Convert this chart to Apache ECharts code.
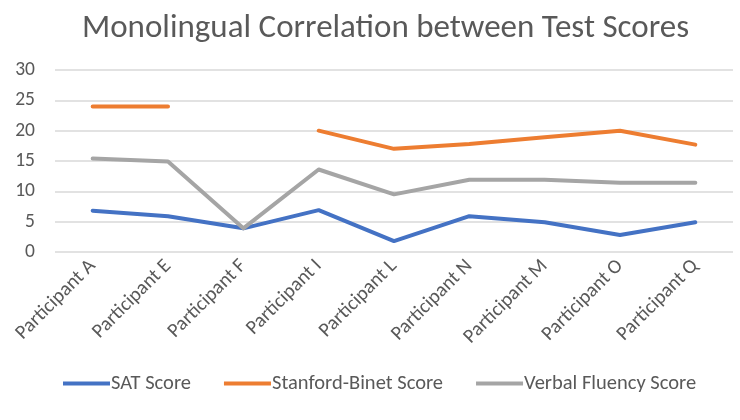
<!DOCTYPE html>
<html><head><meta charset="utf-8">
<script src="https://cdn.jsdelivr.net/npm/echarts@6/dist/echarts.min.js"></script>
<style>html,body{margin:0;padding:0;background:#fff}#c{width:740px;height:420px}</style>
</head><body><div id="c"></div>
<script>
const categories = ['Participant A','Participant E','Participant F','Participant I','Participant L','Participant N','Participant M','Participant O','Participant Q'];
const satScore = [6.8, 5.9, 3.9, 6.9, 1.8, 5.9, 4.9, 2.8, 4.9];
const stanfordBinet = [24, 24, null, 20, 17, 17.8, 18.9, 20, 17.7];
const verbalFluency = [15.4, 14.9, 3.9, 13.6, 9.5, 11.9, 11.9, 11.4, 11.4];
const yTicks = [0, 30, 5];

const chart = echarts.init(document.getElementById('c'));
const font = 'Calibri, Carlito, "Open Sans", sans-serif';
function line(name, data, color){
  return {name, type:'line', data, symbol:'none', connectNulls:false,
    lineStyle:{color, width:4, cap:'round', join:'round'}, itemStyle:{color}};
}
chart.setOption({
  animation:false,
  title:{text:'Monolingual Correlation between Test Scores', left:77, top:7,
    textStyle:{color:'#595959', fontSize:33, fontWeight:'normal', fontFamily:font}},
  legend:{bottom:21, left:58, itemWidth:47, itemHeight:4, itemGap:33, icon:'rect',
    textStyle:{color:'#595959', fontSize:20.5, fontFamily:font, padding:[0,0,0,-4]}},
  grid:{left:55, right:7, top:70, bottom:168},
  xAxis:{type:'category', data:categories, boundaryGap:true,
    axisLine:{show:false}, axisTick:{show:false},
    axisLabel:{rotate:45, color:'#595959', fontSize:20, fontFamily:font, margin:11, interval:0}},
  yAxis:{type:'value', min:yTicks[0], max:yTicks[1], interval:yTicks[2],
    axisLine:{show:false}, axisTick:{show:false},
    splitLine:{lineStyle:{color:'#d9d9d9', width:1.5}},
    axisLabel:{color:'#595959', fontSize:19.5, fontFamily:font, margin:20}},
  series:[
    line('SAT Score', satScore, '#4472C4'),
    line('Stanford-Binet Score', stanfordBinet, '#ED7D31'),
    line('Verbal Fluency Score', verbalFluency, '#A5A5A5')
  ]
});
</script></body></html>
